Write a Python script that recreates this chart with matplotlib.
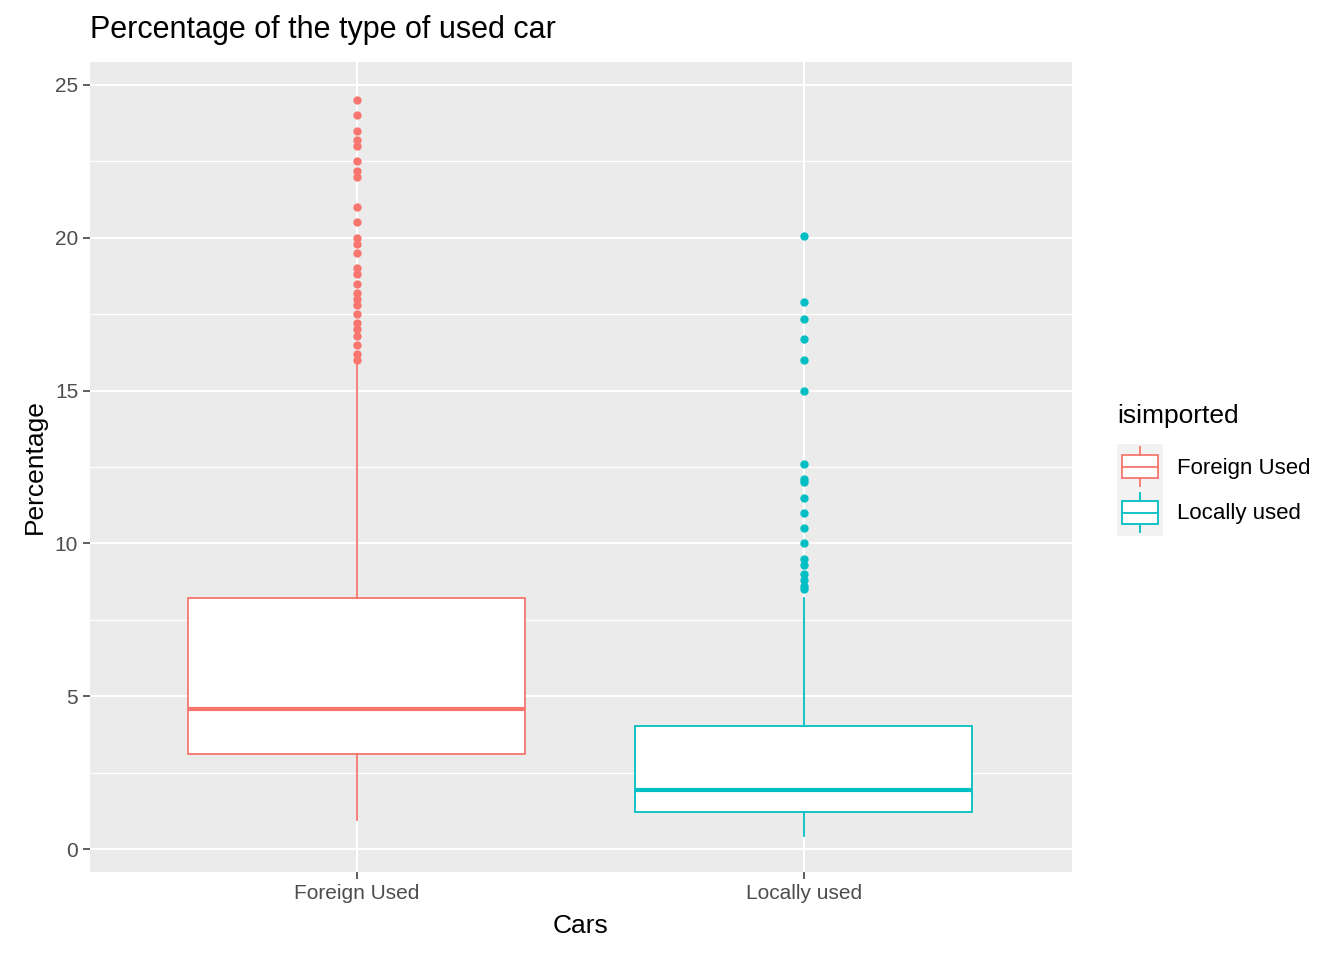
import matplotlib.pyplot as plt
from matplotlib.patches import Rectangle
from matplotlib.lines import Line2D

plt.rcParams['font.family'] = ['Liberation Sans', 'DejaVu Sans']

cats = ['Foreign Used', 'Locally used']
colors = ['#F8766D', '#00BFC4']
q1 = [3.11, 1.21]
med = [4.58, 1.93]
q3 = [8.21, 4.02]
wlo = [0.95, 0.43]
whi = [15.9, 8.2]
fliers = [
    [16.0, 16.2, 16.5, 16.8, 17.0, 17.2, 17.5, 17.8, 18.0, 18.2, 18.5, 18.8, 19.0,
     19.5, 19.8, 20.0, 20.5, 21.0, 22.0, 22.2, 22.5, 23.0, 23.2, 23.5, 24.0, 24.5],
    [20.05, 17.9, 17.35, 16.7, 16.0, 15.0, 12.6, 12.1, 12.0, 11.5, 11.0, 10.5, 10.0,
     9.5, 9.3, 9.0, 8.8, 8.6, 8.5],
]

fig = plt.figure(figsize=(13.44, 9.6), dpi=100)
ax = fig.add_axes([90/1344, 1-872/960, (1072-90)/1344, (872-62)/960])
ax.set_facecolor('#EBEBEB')
for s in ax.spines.values():
    s.set_visible(False)

for y in [2.5, 7.5, 12.5, 17.5, 22.5]:
    ax.axhline(y, color='white', lw=0.8, zorder=0)
for y in [0, 5, 10, 15, 20, 25]:
    ax.axhline(y, color='white', lw=1.5, zorder=0)
for x in [1, 2]:
    ax.axvline(x, color='white', lw=1.5, zorder=0)

for i in range(2):
    stats = [dict(med=med[i], q1=q1[i], q3=q3[i], whislo=wlo[i], whishi=whi[i], fliers=fliers[i])]
    c = colors[i]
    ax.bxp(stats, positions=[i + 1], widths=0.754, showcaps=False, patch_artist=True,
           boxprops=dict(facecolor='white', edgecolor=c, lw=1.3),
           whiskerprops=dict(color=c, lw=1.3),
           medianprops=dict(color=c, lw=3),
           flierprops=dict(marker='o', markerfacecolor=c, markeredgecolor=c, markersize=5))

ax.set_xlim(0.403, 2.6)
ax.set_ylim(-0.75, 25.75)
ax.set_xticks([1, 2])
ax.set_xticklabels(cats)
ax.set_yticks([0, 5, 10, 15, 20, 25])
ax.tick_params(colors='#333333', labelcolor='#4D4D4D', labelsize=15, length=5, width=1.1)
ax.set_xlabel('Cars', fontsize=19, labelpad=8)
ax.set_ylabel('Percentage', fontsize=19, labelpad=6)
fig.text(90/1344, 1-30/960, 'Percentage of the type of used car', fontsize=22, va='center')

# legend
fig.text(1117/1344, 1-416/960, 'isimported', fontsize=19, va='center')
W, H = 1344, 960
for i in range(2):
    top = 444 + 46*i
    fig.patches.append(Rectangle((1117/W, 1-(top+46)/H), 46/W, 46/H, transform=fig.transFigure,
                                 facecolor='#F2F2F2', edgecolor='none'))
    fig.patches.append(Rectangle((1122/W, 1-(top+34)/H), 36/W, 23/H, transform=fig.transFigure,
                                 facecolor='white', edgecolor=colors[i], lw=1.3))
    for ya, yb in [(top+3, top+11), (top+34, top+42)]:
        fig.lines.append(Line2D([1140/W]*2, [1-ya/H, 1-yb/H], transform=fig.transFigure,
                                color=colors[i], lw=1.3))
    fig.lines.append(Line2D([1122/W, 1158/W], [1-(top+23)/H]*2, transform=fig.transFigure,
                            color=colors[i], lw=1.3))
    fig.text(1177/W, 1-(top+24)/H, cats[i], fontsize=16, va='center')

fig.savefig('out.png', dpi=100)
